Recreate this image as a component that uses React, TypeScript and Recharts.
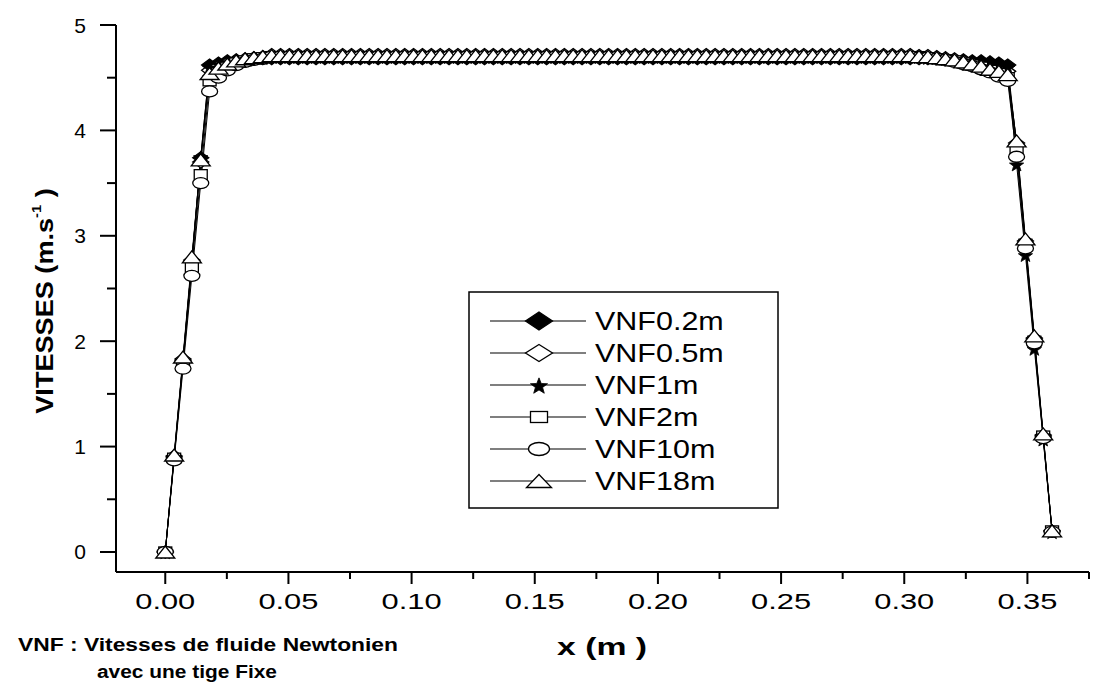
import React from 'react';
import { LineChart, Line, XAxis, YAxis, Legend } from 'recharts';

// x positions (m)
const X_M = [
  0, 0.0036, 0.0072, 0.0108, 0.0144, 0.018, 0.0216, 0.0252, 0.0288, 0.0324,
  0.036, 0.0396, 0.0432, 0.0468, 0.0504, 0.054, 0.0576, 0.0612, 0.0648, 0.0684,
  0.072, 0.0756, 0.0792, 0.0828, 0.0864, 0.09, 0.0936, 0.0972, 0.1008, 0.1044,
  0.108, 0.1116, 0.1152, 0.1188, 0.1224, 0.126, 0.1296, 0.1332, 0.1368, 0.1404,
  0.144, 0.1476, 0.1512, 0.1548, 0.1584, 0.162, 0.1656, 0.1692, 0.1728, 0.1764,
  0.18, 0.1836, 0.1872, 0.1908, 0.1944, 0.198, 0.2016, 0.2052, 0.2088, 0.2124,
  0.216, 0.2196, 0.2232, 0.2268, 0.2304, 0.234, 0.2376, 0.2412, 0.2448, 0.2484,
  0.252, 0.2556, 0.2592, 0.2628, 0.2664, 0.27, 0.2736, 0.2772, 0.2808, 0.2844,
  0.288, 0.2916, 0.2952, 0.2988, 0.3024, 0.306, 0.3096, 0.3132, 0.3168, 0.3204,
  0.324, 0.3276, 0.3312, 0.3348, 0.3384, 0.342, 0.3456, 0.3492, 0.3528, 0.3564,
  0.36,
];

const VNF02 = [
  0, 0.90, 1.82, 2.76, 3.74, 4.62, 4.64, 4.66, 4.67, 4.67, 4.68, 4.68,
  4.68, 4.68, 4.68, 4.68, 4.68, 4.68, 4.68, 4.68, 4.68, 4.68,
  4.68, 4.68, 4.68, 4.68, 4.68, 4.68, 4.68, 4.68, 4.68, 4.68,
  4.68, 4.68, 4.68, 4.68, 4.68, 4.68, 4.68, 4.68, 4.68, 4.68,
  4.68, 4.68, 4.68, 4.68, 4.68, 4.68, 4.68, 4.68, 4.68, 4.68,
  4.68, 4.68, 4.68, 4.68, 4.68, 4.68, 4.68, 4.68, 4.68, 4.68,
  4.68, 4.68, 4.68, 4.68, 4.68, 4.68, 4.68, 4.68, 4.68, 4.68,
  4.68, 4.68, 4.68, 4.68, 4.68, 4.68, 4.68, 4.68, 4.68, 4.68,
  4.68, 4.68, 4.68,
  4.68, 4.68, 4.68, 4.67, 4.67, 4.67, 4.66, 4.66, 4.65, 4.64, 4.62,
  3.86, 2.93, 2.02, 1.10, 0.20,
];

const VNF05 = [
  0, 0.91, 1.83, 2.77, 3.70, 4.57, 4.61, 4.64, 4.66, 4.68, 4.69, 4.70,
  4.72, 4.72, 4.72, 4.72, 4.72, 4.72, 4.72, 4.72, 4.72, 4.72,
  4.72, 4.72, 4.72, 4.72, 4.72, 4.72, 4.72, 4.72, 4.72, 4.72,
  4.72, 4.72, 4.72, 4.72, 4.72, 4.72, 4.72, 4.72, 4.72, 4.72,
  4.72, 4.72, 4.72, 4.72, 4.72, 4.72, 4.72, 4.72, 4.72, 4.72,
  4.72, 4.72, 4.72, 4.72, 4.72, 4.72, 4.72, 4.72, 4.72, 4.72,
  4.72, 4.72, 4.72, 4.72, 4.72, 4.72, 4.72, 4.72, 4.72, 4.72,
  4.72, 4.72, 4.72, 4.72, 4.72, 4.72, 4.72, 4.72, 4.72, 4.72,
  4.72, 4.72, 4.72,
  4.71, 4.71, 4.70, 4.69, 4.68, 4.66, 4.64, 4.62, 4.60, 4.58, 4.56,
  3.88, 2.95, 2.03, 1.11, 0.20,
];

const VNF1 = [
  0, 0.90, 1.82, 2.76, 3.75, 4.60, 4.63, 4.65, 4.67, 4.68, 4.69, 4.69,
  4.70, 4.70, 4.70, 4.70, 4.70, 4.70, 4.70, 4.70, 4.70, 4.70,
  4.70, 4.70, 4.70, 4.70, 4.70, 4.70, 4.70, 4.70, 4.70, 4.70,
  4.70, 4.70, 4.70, 4.70, 4.70, 4.70, 4.70, 4.70, 4.70, 4.70,
  4.70, 4.70, 4.70, 4.70, 4.70, 4.70, 4.70, 4.70, 4.70, 4.70,
  4.70, 4.70, 4.70, 4.70, 4.70, 4.70, 4.70, 4.70, 4.70, 4.70,
  4.70, 4.70, 4.70, 4.70, 4.70, 4.70, 4.70, 4.70, 4.70, 4.70,
  4.70, 4.70, 4.70, 4.70, 4.70, 4.70, 4.70, 4.70, 4.70, 4.70,
  4.70, 4.70, 4.70,
  4.70, 4.69, 4.69, 4.68, 4.67, 4.66, 4.65, 4.64, 4.63, 4.62, 4.60,
  3.68, 2.82, 1.93, 1.07, 0.19,
];

const VNF2 = [
  0, 0.89, 1.78, 2.70, 3.58, 4.47, 4.55, 4.60, 4.64, 4.66, 4.68, 4.69,
  4.70, 4.70, 4.70, 4.70, 4.70, 4.70, 4.70, 4.70, 4.70, 4.70,
  4.70, 4.70, 4.70, 4.70, 4.70, 4.70, 4.70, 4.70, 4.70, 4.70,
  4.70, 4.70, 4.70, 4.70, 4.70, 4.70, 4.70, 4.70, 4.70, 4.70,
  4.70, 4.70, 4.70, 4.70, 4.70, 4.70, 4.70, 4.70, 4.70, 4.70,
  4.70, 4.70, 4.70, 4.70, 4.70, 4.70, 4.70, 4.70, 4.70, 4.70,
  4.70, 4.70, 4.70, 4.70, 4.70, 4.70, 4.70, 4.70, 4.70, 4.70,
  4.70, 4.70, 4.70, 4.70, 4.70, 4.70, 4.70, 4.70, 4.70, 4.70,
  4.70, 4.70, 4.70,
  4.70, 4.69, 4.68, 4.67, 4.66, 4.64, 4.62, 4.60, 4.57, 4.54, 4.50,
  3.82, 2.92, 2.00, 1.10, 0.20,
];

const VNF10 = [
  0, 0.87, 1.74, 2.62, 3.50, 4.37, 4.50, 4.57, 4.62, 4.65, 4.67, 4.68,
  4.70, 4.70, 4.70, 4.70, 4.70, 4.70, 4.70, 4.70, 4.70, 4.70,
  4.70, 4.70, 4.70, 4.70, 4.70, 4.70, 4.70, 4.70, 4.70, 4.70,
  4.70, 4.70, 4.70, 4.70, 4.70, 4.70, 4.70, 4.70, 4.70, 4.70,
  4.70, 4.70, 4.70, 4.70, 4.70, 4.70, 4.70, 4.70, 4.70, 4.70,
  4.70, 4.70, 4.70, 4.70, 4.70, 4.70, 4.70, 4.70, 4.70, 4.70,
  4.70, 4.70, 4.70, 4.70, 4.70, 4.70, 4.70, 4.70, 4.70, 4.70,
  4.70, 4.70, 4.70, 4.70, 4.70, 4.70, 4.70, 4.70, 4.70, 4.70,
  4.70, 4.70, 4.70,
  4.69, 4.69, 4.68, 4.67, 4.65, 4.63, 4.61, 4.58, 4.55, 4.51, 4.47,
  3.75, 2.88, 1.98, 1.08, 0.19,
];

const VNF18 = [
  0, 0.92, 1.85, 2.80, 3.72, 4.54, 4.59, 4.63, 4.66, 4.68, 4.69, 4.70,
  4.71, 4.71, 4.71, 4.71, 4.71, 4.71, 4.71, 4.71, 4.71, 4.71,
  4.71, 4.71, 4.71, 4.71, 4.71, 4.71, 4.71, 4.71, 4.71, 4.71,
  4.71, 4.71, 4.71, 4.71, 4.71, 4.71, 4.71, 4.71, 4.71, 4.71,
  4.71, 4.71, 4.71, 4.71, 4.71, 4.71, 4.71, 4.71, 4.71, 4.71,
  4.71, 4.71, 4.71, 4.71, 4.71, 4.71, 4.71, 4.71, 4.71, 4.71,
  4.71, 4.71, 4.71, 4.71, 4.71, 4.71, 4.71, 4.71, 4.71, 4.71,
  4.71, 4.71, 4.71, 4.71, 4.71, 4.71, 4.71, 4.71, 4.71, 4.71,
  4.71, 4.71, 4.71,
  4.70, 4.70, 4.69, 4.68, 4.67, 4.65, 4.63, 4.61, 4.58, 4.56, 4.53,
  3.90, 2.97, 2.05, 1.12, 0.20,
];

const SERIES_NAMES = ['VNF0.2m', 'VNF0.5m', 'VNF1m', 'VNF2m', 'VNF10m', 'VNF18m'];
const SERIES_VALUES = [VNF02, VNF05, VNF1, VNF2, VNF10, VNF18];
const SERIES_SHAPES = ['diamondFilled', 'diamondOpen', 'star', 'square', 'circle', 'triangle'];

const X_MAJOR_TICKS = [0, 0.05, 0.1, 0.15, 0.2, 0.25, 0.3, 0.35];
const X_MINOR_TICKS = [0.025, 0.075, 0.125, 0.175, 0.225, 0.275, 0.325, 0.375];
const Y_MAJOR_TICKS = [0, 1, 2, 3, 4, 5];
const Y_MINOR_TICKS = [0.5, 1.5, 2.5, 3.5, 4.5];

const X_TITLE = 'x (m )';
const Y_TITLE = 'VITESSES (m.s';
const NOTE_1 = 'VNF : Vitesses de fluide Newtonien';
const NOTE_2 = 'avec une tige Fixe';

const data = X_M.map((x, i) => {
  const row: Record<string, number> = { x };
  SERIES_NAMES.forEach((n, k) => {
    row[n] = SERIES_VALUES[k][i];
  });
  return row;
});

const PLOT_SIZES: Record<string, [number, number]> = {
  diamondFilled: [16, 12],
  diamondOpen: [16, 12],
  star: [15, 14],
  square: [13, 10],
  circle: [16, 11],
  triangle: [19, 12],
};
const LEGEND_SIZES: Record<string, [number, number]> = {
  diamondFilled: [27, 18],
  diamondOpen: [27, 17],
  star: [18, 17],
  square: [17, 11],
  circle: [21, 13],
  triangle: [25, 13],
};

function Marker({ shape, cx, cy, w, h }: { shape: string; cx: number; cy: number; w: number; h: number }) {
  const sw = 1.3;
  if (shape === 'diamondFilled' || shape === 'diamondOpen') {
    const pts = `${cx},${cy - h / 2} ${cx + w / 2},${cy} ${cx},${cy + h / 2} ${cx - w / 2},${cy}`;
    return <polygon points={pts} fill={shape === 'diamondFilled' ? '#000' : '#fff'} stroke="#000" strokeWidth={sw} />;
  }
  if (shape === 'star') {
    const p: string[] = [];
    for (let k = 0; k < 10; k++) {
      const a = (-90 + k * 36) * (Math.PI / 180);
      const r = k % 2 === 0 ? 1 : 0.42;
      p.push(`${cx + Math.cos(a) * r * (w / 2)},${cy + 0.08 * h + Math.sin(a) * r * (h / 2)}`);
    }
    return <polygon points={p.join(' ')} fill="#000" stroke="#000" strokeWidth={0.8} />;
  }
  if (shape === 'square') {
    return <rect x={cx - w / 2} y={cy - h / 2} width={w} height={h} fill="#fff" stroke="#000" strokeWidth={sw} />;
  }
  if (shape === 'circle') {
    return <ellipse cx={cx} cy={cy} rx={w / 2} ry={h / 2} fill="#fff" stroke="#000" strokeWidth={sw} />;
  }
  const pts = `${cx},${cy - h / 2} ${cx + w / 2},${cy + h / 2} ${cx - w / 2},${cy + h / 2}`;
  return <polygon points={pts} fill="#fff" stroke="#000" strokeWidth={sw} />;
}

const isMajor = (v: number, step: number) => Math.abs(v / step - Math.round(v / step)) < 1e-6;

const XTick = (props: any) => {
  const { x, y, payload } = props;
  const v = payload.value as number;
  const major = isMajor(v, 0.05);
  return (
    <g>
      <line x1={x} x2={x} y1={y} y2={y + (major ? 12 : 7)} stroke="#000" strokeWidth={2} />
      {major && (
        <text
          x={x - 30}
          y={y + 37}
          textAnchor="start"
          fontSize={22}
          fontFamily="'Liberation Sans', Arial, sans-serif"
          textLength={60}
          lengthAdjust="spacingAndGlyphs"
          fill="#000"
        >
          {v.toFixed(2)}
        </text>
      )}
    </g>
  );
};

const YTick = (props: any) => {
  const { x, y, payload } = props;
  const v = payload.value as number;
  const major = isMajor(v, 1);
  return (
    <g>
      <line x1={x} x2={x - (major ? 16 : 9)} y1={y} y2={y} stroke="#000" strokeWidth={2} />
      {major && (
        <text x={x - 30} y={y + 7.5} textAnchor="end" fontSize={21} fontFamily="'Liberation Sans', Arial, sans-serif" fill="#000">
          {String(v)}
        </text>
      )}
    </g>
  );
};

const LegendBox = () => {
  const rows = [30, 62, 94, 126, 158, 190];
  return (
    <svg width={312} height={219} style={{ display: 'block' }}>
      <rect x={1} y={1} width={309} height={216} fill="#fff" stroke="#000" strokeWidth={1.5} />
      {SERIES_NAMES.map((name, k) => {
        const y = rows[k];
        const [w, h] = LEGEND_SIZES[SERIES_SHAPES[k]];
        return (
          <g key={name}>
            <line x1={22} x2={118} y1={y} y2={y} stroke="#000" strokeWidth={1.2} />
            <Marker shape={SERIES_SHAPES[k]} cx={71} cy={y} w={w} h={h} />
            <text
              transform={`translate(127, ${y + 9}) scale(1.22, 1)`}
              fontSize={25}
              fontFamily="'Liberation Sans', Arial, sans-serif"
              fill="#000"
            >
              {name}
            </text>
          </g>
        );
      })}
    </svg>
  );
};

export default function App() {
  return (
    <div style={{ position: 'absolute', left: 0, top: 0, width: 1096, height: 682, background: '#fff' }}>
      <LineChart
        width={1096}
        height={682}
        data={data}
        margin={{ top: 25, right: 7, left: 56, bottom: 70 }}
      >
        <XAxis
          dataKey="x"
          type="number"
          domain={[-0.02, 0.375]}
          ticks={[...X_MAJOR_TICKS, ...X_MINOR_TICKS].sort((a, b) => a - b)}
          interval={0}
          tick={<XTick />}
          tickLine={false}
          tickSize={0}
          tickMargin={0}
          axisLine={{ stroke: '#000', strokeWidth: 2 }}
          height={40}
          allowDataOverflow
        />
        <YAxis
          type="number"
          domain={[-0.19, 5]}
          ticks={[...Y_MAJOR_TICKS, ...Y_MINOR_TICKS].sort((a, b) => a - b)}
          interval={0}
          tick={<YTick />}
          tickLine={false}
          tickSize={0}
          tickMargin={0}
          axisLine={{ stroke: '#000', strokeWidth: 2 }}
          width={60}
          allowDataOverflow
        />
        <Legend
          layout="vertical"
          align="center"
          verticalAlign="middle"
          content={() => <LegendBox />}
          wrapperStyle={{ position: 'absolute', left: 468, top: 291, width: 312, height: 219 }}
        />
        {SERIES_NAMES.map((name, k) => (
          <Line
            key={name}
            dataKey={name}
            name={name}
            type="linear"
            stroke="#000"
            strokeWidth={1}
            isAnimationActive={false}
            activeDot={false}
            dot={(p: any) => {
              const [w, h] = PLOT_SIZES[SERIES_SHAPES[k]];
              return (
                <g key={`${name}-${p.index}`}>
                  <Marker shape={SERIES_SHAPES[k]} cx={p.cx} cy={p.cy} w={w} h={h} />
                </g>
              );
            }}
          />
        ))}
      </LineChart>
      <svg
        width={1096}
        height={682}
        style={{ position: 'absolute', left: 0, top: 0, pointerEvents: 'none' }}
      >
        <text
          transform="translate(53, 301) rotate(-90) scale(1.13, 1)"
          textAnchor="middle"
          fontSize={24}
          fontWeight="bold"
          fontFamily="'Liberation Sans', Arial, sans-serif"
          fill="#000"
        >
          {Y_TITLE}
          <tspan fontSize={13} dy={-12}>-1</tspan>
          <tspan dy={12}> )</tspan>
        </text>
        <text
          x={557}
          y={655}
          fontSize={24}
          fontWeight="bold"
          fontFamily="'Liberation Sans', Arial, sans-serif"
          textLength={90}
          lengthAdjust="spacingAndGlyphs"
          fill="#000"
        >
          {X_TITLE}
        </text>
        <text
          x={18}
          y={651}
          fontSize={18}
          fontWeight="bold"
          fontFamily="'Liberation Sans', Arial, sans-serif"
          textLength={380}
          lengthAdjust="spacingAndGlyphs"
          fill="#000"
        >
          {NOTE_1}
        </text>
        <text
          x={97}
          y={678}
          fontSize={18}
          fontWeight="bold"
          fontFamily="'Liberation Sans', Arial, sans-serif"
          textLength={180}
          lengthAdjust="spacingAndGlyphs"
          fill="#000"
        >
          {NOTE_2}
        </text>
      </svg>
    </div>
  );
}
